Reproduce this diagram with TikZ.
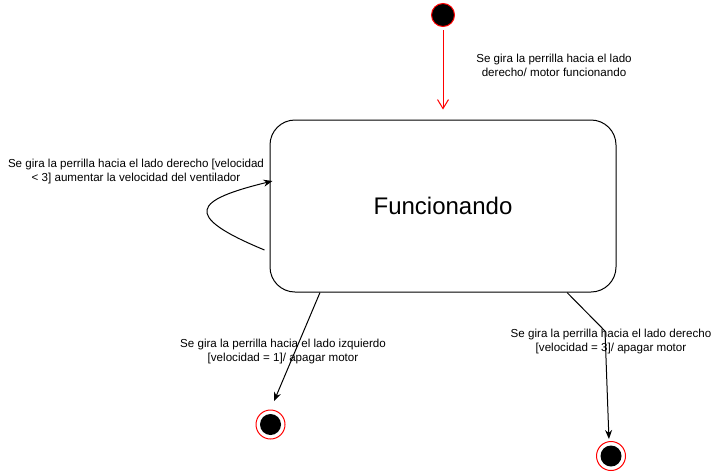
\documentclass[tikz,border=0pt]{standalone}
\usepackage{fontspec}
\setmainfont{Liberation Sans}
\usetikzlibrary{arrows.meta,calc}

\begin{document}
\begin{tikzpicture}[
  x=1pt,y=-1pt,
  line width=1pt,
  inicio/.style={
    circle,
    draw=red,
    fill=black,
    minimum size=23pt,
    inner sep=0pt
  },
  fin/.style={
    circle,
    draw=red,
    fill=white,
    minimum size=29pt,
    inner sep=0pt,
    path picture={\fill[black] (path picture bounding box.center) circle (10.5pt);}
  },
  estado/.style={
    draw,
    rectangle,
    rounded corners=25pt,
    minimum width=346pt,
    minimum height=172pt,
    font=\fontsize{24}{28}\selectfont
  },
  etiqueta/.style={
    align=center,
    inner sep=0pt,
    font=\fontsize{11.6}{14}\selectfont
  },
  transicion/.style={-{Stealth[length=9pt,width=7pt]}}
]
  \useasboundingbox (0,0) rectangle (727,471);

  \node[inicio] (inicio) at (443,15) {};
  \node[estado] (funcionando) at (443,206) {Funcionando};
  \node[fin] (finIzq) at (270.5,424.5) {};
  \node[fin] (finDer) at (611,456) {};

  \coordinate (bucleSale) at ([shift={(-5,44)}]funcionando.west);
  \coordinate (bucleEntra) at ([shift={(3,-25)}]funcionando.west);
  \coordinate (codo) at (605,331);

  \draw[red,-{Straight Barb[length=9pt,width=11pt]},shorten <=3pt,shorten >=10pt]
    (inicio) -- (funcionando.north);
  \draw[transicion]
    (bucleSale) .. controls (180,215) and (195,200) .. (bucleEntra);
  \draw[transicion,shorten >=9pt]
    ([xshift=-123]funcionando.south) -- (finIzq.north);
  \draw[transicion,shorten >=2pt]
    ([xshift=124]funcionando.south) -- (codo) -- ([xshift=-2]finDer.north);

  \node[etiqueta] (etqInicio) at (554,65)
    {Se gira la perrilla hacia el lado\\derecho/ motor funcionando};
  \node[etiqueta] (etqBucle) at (136,171)
    {Se gira la perrilla hacia el lado derecho [velocidad\\< 3] aumentar la velocidad del ventilador};
  \node[etiqueta] (etqIzq) at (283,351)
    {Se gira la perrilla hacia el lado izquierdo\\{[velocidad = 1]/ apagar motor}};
  \node[etiqueta] (etqDer) at (611,341)
    {Se gira la perrilla hacia el lado derecho\\{[velocidad = 3]/ apagar motor}};
\end{tikzpicture}
\end{document}
